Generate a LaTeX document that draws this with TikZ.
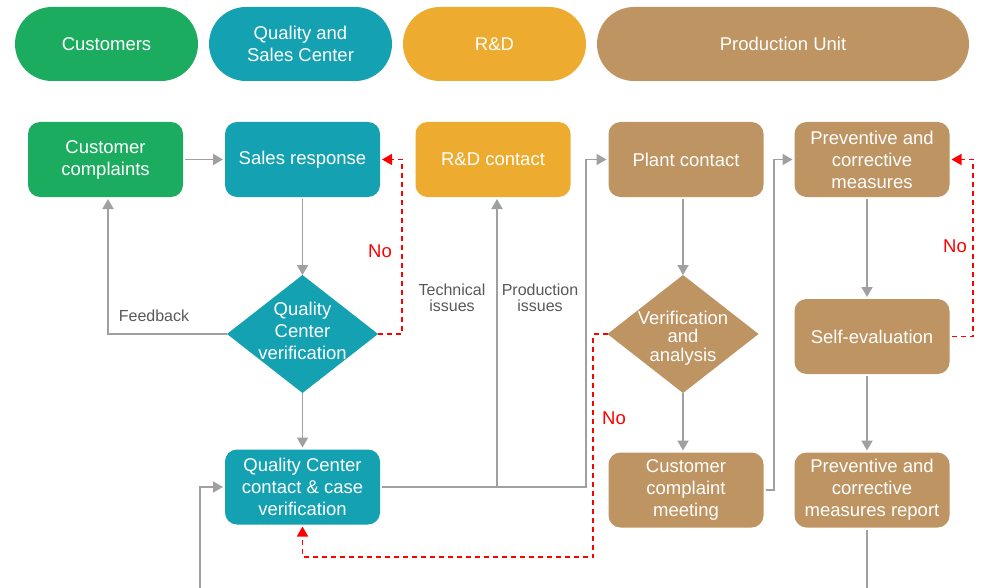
\documentclass[tikz,border=0pt]{standalone}
\usepackage{fontspec}
\setmainfont{Liberation Sans}
\usetikzlibrary{shapes.geometric,arrows.meta}

\definecolor{cgreen}{RGB}{27,172,96}
\definecolor{cteal}{RGB}{20,161,178}
\definecolor{corange}{RGB}{237,172,47}
\definecolor{ctan}{RGB}{189,148,98}
\definecolor{cline}{RGB}{160,160,160}
\definecolor{clabel}{RGB}{89,89,89}
\definecolor{cno}{RGB}{255,0,0}

\tikzset{
  header/.style={rectangle, rounded corners=37pt, minimum height=74pt,
    minimum width=183pt, inner sep=0pt, text=white, align=center,
    font=\fontsize{18.5}{22}\selectfont},
  box/.style={rectangle, rounded corners=12pt, minimum width=155pt,
    minimum height=75pt, inner sep=0pt, outer sep=2pt, text=white,
    align=center, font=\fontsize{18.5}{22}\selectfont},
  dia/.style={diamond, minimum width=151pt, minimum height=118pt,
    inner sep=0pt, outer sep=0pt},
  diatext/.style={text=white, align=center, inner sep=0pt},
  conn/.style={draw=cline, line width=1.8pt,
    -{Triangle[width=11pt,length=10pt]}},
  plain/.style={draw=cline, line width=1.8pt},
  noline/.style={draw=cno, line width=1.6pt, dash pattern=on 5pt off 4pt,
    -{Triangle[width=11pt,length=10pt]}},
  lbl/.style={text=clabel, align=center, inner sep=0pt,
    font=\fontsize{16}{16}\selectfont},
  nolbl/.style={text=cno, inner sep=0pt, font=\fontsize{18.5}{22}\selectfont},
}

\begin{document}
\begin{tikzpicture}[x=1pt, y=-1pt]
\useasboundingbox[fill=white] (0,0) rectangle (984,588);

% lane headers
\node[header, fill=cgreen] (hcust) at (106.5,44) {Customers};
\node[header, fill=cteal] (hqsc) at (300.5,44) {Quality and\\Sales Center};
\node[header, fill=corange] (hrd) at (494.5,44) {R\&D};
\node[header, fill=ctan, minimum width=372pt] (hprod) at (783,44) {Production Unit};

% process steps
\node[box, fill=cgreen] (cc) at (105.5,159.5) {Customer\\complaints};
\node[box, fill=cteal] (sr) at (302.5,159.5) {\raisebox{-2pt}{Sales response}};
\node[box, fill=corange] (rd) at (493,159.5) {\raisebox{-2pt}{R\&D contact}};
\node[box, fill=ctan] (pc) at (686,159.5) {\raisebox{-2pt}{Plant contact}};
\node[box, fill=ctan] (pm) at (872,159.5) {Preventive and\\corrective\\measures};
\node[box, fill=ctan] (se) at (872,336.5) {Self-evaluation};
\node[box, fill=cteal] (qc) at (302.5,487) {Quality Center\\contact \& case\\verification};
\node[box, fill=ctan] (ccm) at (686,490) {Customer\\complaint\\meeting};
\node[box, fill=ctan] (pmr) at (872,490) {Preventive and\\corrective\\measures report};

% decisions
\node[dia, fill=cteal] (d1) at (302.5,334) {};
\node[diatext, font=\fontsize{18.5}{22}\selectfont] (d1t) at (302.5,331) {Quality\\Center\\verification};
\node[dia, fill=ctan] (d2) at (683,334) {};
\node[diatext, font=\fontsize{18.5}{18.5}\selectfont] (d2t) at (683,338) {Verification\\and\\analysis};

% routing columns and rows
\coordinate (colNo1) at (402,0);
\coordinate (colFb) at (108,0);
\coordinate (colBr) at (497,0);
\coordinate (colUp) at (586,0);
\coordinate (rowNo2) at (593,557);
\coordinate (colMt) at (774,0);
\coordinate (colPm) at (867,0);
\coordinate (colNo3) at (973,0);
\coordinate (inLeft) at (200,590);
\coordinate (outBot) at (867,590);

% flow
\draw[conn] (cc.east) -- (sr.west);
\draw[conn] (sr.south) -- (d1.north);
\draw[conn] (d1.west) -- (d1.west -| colFb) -- (colFb |- cc.south);
\draw[noline] (d1.east) -- (d1.east -| colNo1) |- (sr.east);
\draw[conn] (d1.south) -- (qc.north);
\draw[conn] (inLeft) |- (qc.west);

\draw[conn] (qc.east) -- (qc.east -| colUp) |- (pc.west);
\coordinate (br) at (qc.east -| colBr);
\draw[conn] (br) -- (br |- rd.south);

\draw[conn] (pc.south -| d2.north) -- (d2.north);
\draw[conn] (d2.south) -- (d2.south |- ccm.north);
\draw[noline] (d2.west) -- (d2.west -| rowNo2) |- (qc.south |- rowNo2) -- (qc.south);

\draw[conn] (ccm.east) -- (ccm.east -| colMt) |- (pm.west);
\draw[conn] (pm.south -| colPm) -- (se.north -| colPm);
\draw[noline] (se.east) -- (se.east -| colNo3) |- (pm.east);
\draw[conn] (se.south -| colPm) -- (pmr.north -| colPm);
\draw[plain] (pmr.south -| colPm) -- (outBot);

% connector labels
\node[lbl] (lfb) at (154,316) {Feedback};
\node[lbl, font=\fontsize{16}{16}\selectfont] (ltech) at (452,298) {Technical\\issues};
\node[lbl, font=\fontsize{16}{16}\selectfont] (lprod) at (540,298) {Production\\issues};
\node[nolbl] (lno1) at (380,251) {No};
\node[nolbl] (lno2) at (614,418) {No};
\node[nolbl] (lno3) at (955,246) {No};
\end{tikzpicture}
\end{document}
